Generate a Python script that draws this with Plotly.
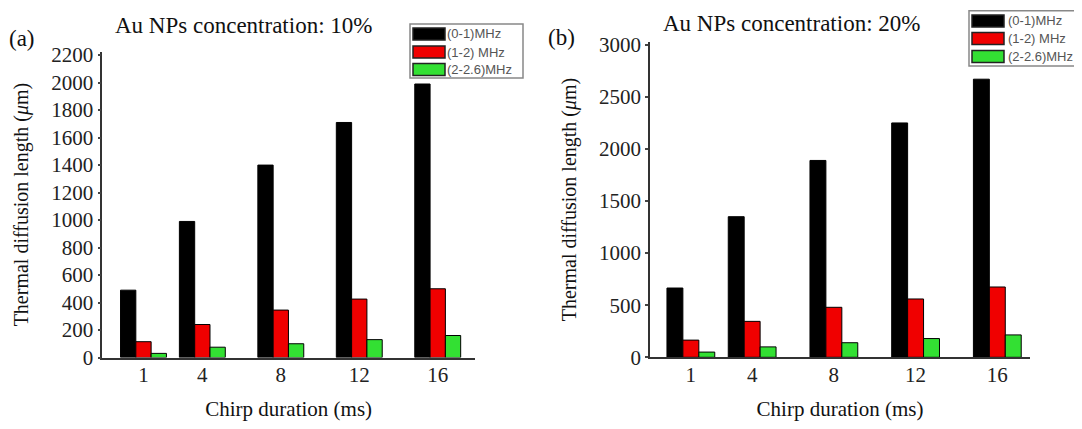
import plotly.graph_objects as go

# ---- data ----
durations = [1, 4, 8, 12, 16]
tick_labels = ["1", "4", "8", "12", "16"]
series_names = ["(0-1)MHz", "(1-2) MHz", "(2-2.6)MHz"]
series_colors = ["#000000", "#f00000", "#33e033"]

a_0_1 = [490, 990, 1400, 1710, 1990]
a_1_2 = [115, 240, 345, 425, 500]
a_2_26 = [30, 75, 100, 130, 160]

b_0_1 = [665, 1350, 1890, 2250, 2670]
b_1_2 = [165, 345, 480, 560, 675]
b_2_26 = [50, 100, 140, 180, 215]

panel_titles = ["Au NPs concentration: 10%", "Au NPs concentration: 20%"]
panel_tags = ["(a)", "(b)"]
x_title = "Chirp duration (ms)"
y_title = "Thermal diffusion length (<i>μ</i>m)"

# page body has an 8px margin; the figure fills the rest of the window
OFF = 8
W, H = 1082 - OFF, 429 - OFF
SERIF = "Liberation Serif"
SANS = "Liberation Sans"

fig = go.Figure()

for i, vals in enumerate([a_0_1, a_1_2, a_2_26]):
    fig.add_trace(go.Bar(x=durations, y=vals, name=series_names[i],
                         marker=dict(color=series_colors[i], line=dict(color="#000000", width=1)),
                         xaxis="x", yaxis="y", offsetgroup=str(i), showlegend=False))
for i, vals in enumerate([b_0_1, b_1_2, b_2_26]):
    fig.add_trace(go.Bar(x=durations, y=vals, name=series_names[i],
                         marker=dict(color=series_colors[i], line=dict(color="#000000", width=1)),
                         xaxis="x2", yaxis="y2", offsetgroup=str(i), showlegend=False))

def px_x(p):
    return (p - OFF) / W

def px_y(p):
    return 1 - (p - OFF) / H

axis_common = dict(showline=True, linecolor="#333333", linewidth=1.5, showgrid=False,
                   zeroline=False, automargin=False,
                   tickfont=dict(family=SERIF, size=21, color="#222222"))

xa = dict(axis_common, tickmode="array", tickvals=durations, ticktext=tick_labels, ticks="",
          ticklabelstandoff=-2,
          title=dict(text=x_title, font=dict(family=SERIF, size=21, color="#111111"), standoff=15))
ya = dict(axis_common, ticks="outside", ticklen=3, tickwidth=2, tickcolor="#444444",
          title=dict(text=y_title, font=dict(family=SERIF, size=20, color="#111111"), standoff=17))

fig.update_layout(
    width=W, height=H, template="none",
    paper_bgcolor="white", plot_bgcolor="white",
    margin=dict(l=0, r=0, t=0, b=0),
    barmode="group", bargap=0.22, bargroupgap=0,
    showlegend=False,
    xaxis=dict(xa, domain=[px_x(102.3), px_x(475)], range=[-1.1, 17.9], anchor="y"),
    yaxis=dict(ya, domain=[px_y(357.5), px_y(51.7)], range=[0, 2225], dtick=200, tick0=0, anchor="x"),
    xaxis2=dict(xa, domain=[px_x(650), px_x(1030)], range=[-1.0, 17.6], anchor="y2"),
    yaxis2=dict(ya, domain=[px_y(357.3), px_y(41.7)], range=[0, 3030], dtick=500, tick0=0, anchor="x2"),
)

# panel titles and tags
fig.add_annotation(text=panel_titles[0], x=px_x(243.5), y=px_y(25), xref="paper", yref="paper",
                   showarrow=False, xanchor="center", yanchor="middle",
                   font=dict(family=SERIF, size=23, color="#111111"))
fig.add_annotation(text=panel_titles[1], x=px_x(791), y=px_y(23), xref="paper", yref="paper",
                   showarrow=False, xanchor="center", yanchor="middle",
                   font=dict(family=SERIF, size=23, color="#111111"))
fig.add_annotation(text=panel_tags[0], x=px_x(21.5), y=px_y(38.5), xref="paper", yref="paper",
                   showarrow=False, xanchor="center", yanchor="middle",
                   font=dict(family=SERIF, size=23, color="#111111"))
fig.add_annotation(text=panel_tags[1], x=px_x(561.5), y=px_y(37), xref="paper", yref="paper",
                   showarrow=False, xanchor="center", yanchor="middle",
                   font=dict(family=SERIF, size=23, color="#111111"))

# legends (one boxed key per panel)
def add_key(box, sw_x0, rows, text_x):
    x0, y0, x1, y1 = box
    fig.add_shape(type="rect", xref="paper", yref="paper",
                  x0=px_x(x0), x1=px_x(x1), y0=px_y(y1), y1=px_y(y0),
                  line=dict(color="#888888", width=1.5), fillcolor="white", layer="above")
    for name, color, yc in zip(series_names, series_colors, rows):
        fig.add_shape(type="rect", xref="paper", yref="paper",
                      x0=px_x(sw_x0), x1=px_x(sw_x0 + 32), y0=px_y(yc + 6), y1=px_y(yc - 6),
                      line=dict(color="#222222", width=1.5), fillcolor=color, layer="above")
        fig.add_annotation(text=name, x=px_x(text_x), y=px_y(yc), xref="paper", yref="paper",
                           showarrow=False, xanchor="left", yanchor="middle",
                           font=dict(family=SANS, size=13, color="#555555"))

add_key((410, 24, 523, 78), 413, [34, 52, 69.5], 445)
add_key((969, 10.7, 1090, 66), 972, [21, 38.5, 56.5], 1006)

fig.write_html("out.html")
